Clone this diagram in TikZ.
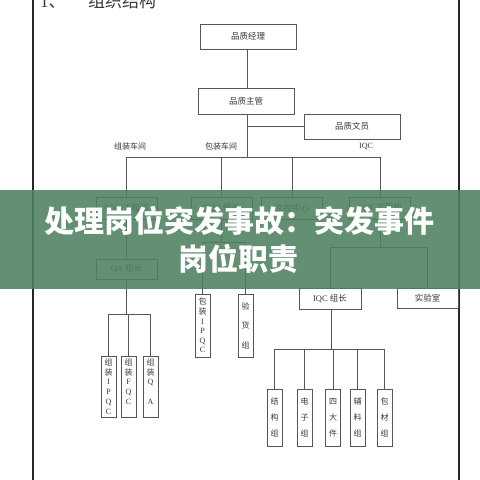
\documentclass[tikz,border=0pt]{standalone}
\usepackage{fontspec}
\setmainfont{Liberation Serif}
\newfontfamily\cjk{Noto Sans CJK SC}
\newcommand\zh[1]{{\cjk #1}}
\definecolor{linec}{RGB}{85,85,85}
\definecolor{txtc}{RGB}{55,55,55}
\definecolor{bannerc}{RGB}{78,128,95}
\begin{document}
\begin{tikzpicture}[x=1pt,y=-1pt,
  conn/.style={draw=linec,line width=0.8pt},
  hbox/.style={draw=linec,line width=0.9pt,fill=white,inner sep=0pt,text=txtc,font=\fontsize{8.5}{10}\selectfont},
  vbox/.style={draw=linec,line width=0.9pt,fill=white,inner sep=0pt,text=txtc,align=center,minimum width=15pt},
  lbl/.style={inner sep=0pt,text=txtc,font=\fontsize{8}{10}\selectfont}
]
\useasboundingbox (0,0) rectangle (480,480);
\clip (0,0) rectangle (480,480);
\fill[white] (0,0) rectangle (480,480);
% page border
\draw[line width=2pt,black!85] (33,-5) -- (33,485);
\draw[line width=2pt,black!85] (459,-5) -- (459,485);
% header
\node[anchor=south west,inner sep=0pt,text=txtc,font=\fontsize{17}{17}\selectfont] (hnum) at (40,9) {1\zh{、}};
\node[anchor=south west,inner sep=0pt,text=txtc,font=\fontsize{17}{17}\selectfont] (htitle) at (88,9) {\zh{组织结构}};
% top boxes
\node[hbox,minimum width=96pt,minimum height=25pt] (mgr) at (248,36.5) {\zh{品质经理}};
\node[hbox,minimum width=96pt,minimum height=26pt] (sup) at (246,101) {\zh{品质主管}};
\node[hbox,minimum width=96pt,minimum height=25pt] (clerk) at (352,126.5) {\zh{品质文员}};
% labels
\node[lbl] (l1) at (130,146) {\zh{组装车间}};
\node[lbl] (l2) at (221,146) {\zh{包装车间}};
\node[lbl] (l3) at (366,146) {IQC};
% second row
\node[hbox,minimum width=61pt,minimum height=22pt] (poe) at (126.5,208) {POE \zh{工程师}};
\node[hbox,minimum width=61pt,minimum height=22pt] (oqc) at (221.5,208) {OQC \zh{组长}};
\node[hbox,minimum width=61pt,minimum height=22pt] (wk) at (292,208) {\zh{文控中心}};
\node[hbox,minimum width=61pt,minimum height=22pt] (sqe) at (380,208) {SQE \zh{工程师}};
\node[hbox,minimum width=61pt,minimum height=20pt] (qa) at (126.5,269) {QA \zh{组长}};
\node[hbox,minimum width=62pt,minimum height=21pt] (iqc) at (330,298.5) {IQC \zh{组长}};
\node[hbox,minimum width=61pt,minimum height=20pt] (lab) at (427.5,298) {\zh{实验室}};
% vertical boxes
\node[vbox,minimum height=61pt,font=\fontsize{8}{9.8}\selectfont] (v1) at (108.5,386.5) {\zh{组}\\\zh{装}\\I\\P\\Q\\C};
\node[vbox,minimum height=61pt,font=\fontsize{8}{9.8}\selectfont] (v2) at (128.5,386.5) {\zh{组}\\\zh{装}\\F\\Q\\C\\\mbox{}};
\node[vbox,minimum height=61pt,font=\fontsize{8}{9.8}\selectfont] (v3) at (150.5,386.5) {\zh{组}\\\zh{装}\\Q\\\mbox{}\\A\\\mbox{}};
\node[vbox,minimum height=63pt,font=\fontsize{8}{9.6}\selectfont] (v4) at (202.5,325.5) {\zh{包}\\\zh{装}\\I\\P\\Q\\C};
\node[vbox,minimum height=63pt,font=\fontsize{8}{19.5}\selectfont] (v5) at (245.5,325.5) {\zh{验}\\\zh{货}\\\zh{组}};
\node[vbox,minimum height=57pt,font=\fontsize{8}{16}\selectfont] (w1) at (274.5,417.5) {\zh{结}\\\zh{构}\\\zh{组}};
\node[vbox,minimum height=57pt,font=\fontsize{8}{16}\selectfont] (w2) at (304.5,417.5) {\zh{电}\\\zh{子}\\\zh{组}};
\node[vbox,minimum height=57pt,font=\fontsize{8}{16}\selectfont] (w3) at (333,417.5) {\zh{四}\\\zh{大}\\\zh{件}};
\node[vbox,minimum height=57pt,font=\fontsize{8}{16}\selectfont] (w4) at (357.5,417.5) {\zh{辅}\\\zh{料}\\\zh{组}};
\node[vbox,minimum height=57pt,font=\fontsize{8}{16}\selectfont] (w5) at (384.5,417.5) {\zh{包}\\\zh{材}\\\zh{组}};
% bars
\coordinate (b1) at (247,157);
\coordinate (b2) at (221.5,242);
\coordinate (b3) at (380,247);
\coordinate (b4) at (127,314);
\coordinate (b5) at (331,349);
% connectors
\draw[conn] (mgr.south -| 247,0) -- (sup.north -| 247,0);
\draw[conn] (sup.south -| b1) -- (b1);
\draw[conn] (b1 |- clerk.west) -- (clerk.west);
\draw[conn] (poe.north) -- (poe.north |- b1) -- (sqe.north |- b1) -- (sqe.north);
\draw[conn] (oqc.north) -- (oqc.north |- b1);
\draw[conn] (wk.north) -- (wk.north |- b1);
\draw[conn] (poe.south) -- (qa.north);
\draw[conn] (qa.south) -- (qa.south |- b4);
\draw[conn] (v1.north) -- (v1.north |- b4) -- (v3.north |- b4) -- (v3.north);
\draw[conn] (v2.north) -- (v2.north |- b4);
\draw[conn] (oqc.south) -- (b2);
\draw[conn] (v4.north) -- (v4.north |- b2) -- (v5.north |- b2) -- (v5.north);
\draw[conn] (sqe.south) -- (b3);
\draw[conn] (iqc.north) -- (iqc.north |- b3) -- (lab.north |- b3) -- (lab.north);
\draw[conn] (iqc.south -| b5) -- (b5);
\draw[conn] (w1.north) -- (w1.north |- b5) -- (w5.north |- b5) -- (w5.north);
\draw[conn] (w2.north) -- (w2.north |- b5);
\draw[conn] (w3.north) -- (w3.north |- b5);
\draw[conn] (w4.north) -- (w4.north |- b5);
% banner
\fill[bannerc,opacity=0.88] (0,190) rectangle (480,289);
\node[inner sep=0pt,text=white,font=\cjk\bfseries\fontsize{30}{30}\selectfont] (t1) at (240,221) {处理岗位突发事故：突发事件};
\node[inner sep=0pt,text=white,font=\cjk\bfseries\fontsize{30}{30}\selectfont] (t2) at (238,258.5) {岗位职责};
\end{tikzpicture}
\end{document}
